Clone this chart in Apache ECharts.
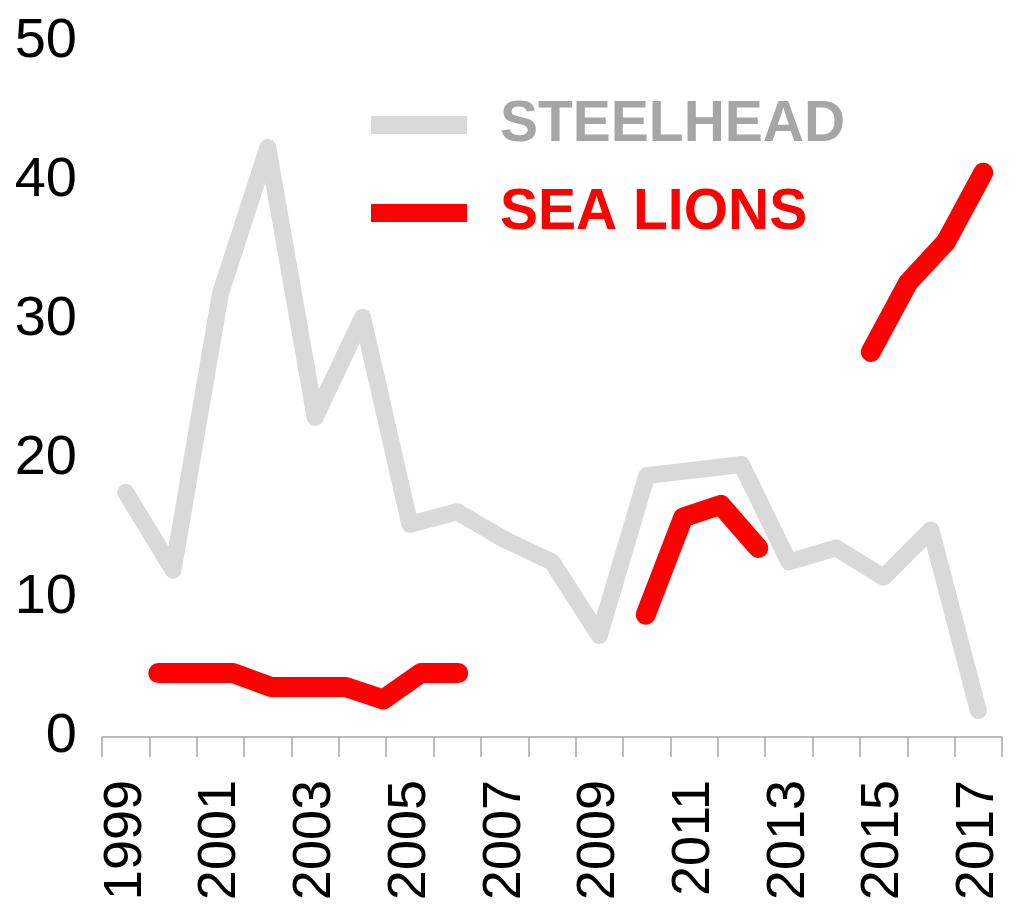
<!DOCTYPE html>
<html>
<head>
<meta charset="utf-8">
<script src="https://cdn.jsdelivr.net/npm/echarts@6/dist/echarts.min.js"></script>
<style>
html,body{margin:0;padding:0;background:#fff;}
#chart{width:1017px;height:908px;}
</style>
</head>
<body>
<div id="chart"></div>
<script>
// Years on the main category axis
var years = ['1999','2000','2001','2002','2003','2004','2005','2006','2007','2008','2009','2010','2011','2012','2013','2014','2015','2016','2017'];
// Steelhead values (one per year)
var steelhead = [17.6, 12.0, 31.9, 42.4, 23.0, 30.2, 15.3, 16.2, 14.2, 12.6, 7.3, 18.8, 19.2, 19.6, 12.6, 13.6, 11.5, 14.9, 1.9];
// Sea lion series sits on its own (hidden) category axis of 24 slots
var seaLionSlots = ['1','2','3','4','5','6','7','8','9','10','11','12','13','14','15','16','17','18','19','20','21','22','23','24'];
var seaLions = [null, 4.6, 4.6, 4.6, 3.6, 3.6, 3.6, 2.7, 4.6, 4.6, null, null, null, null, 8.8, 15.8, 16.7, 13.6, null, null, 27.7, 32.7, 35.6, 40.6];
var yTicks = {min: 0, max: 50, interval: 10};
var seriesNames = ['STEELHEAD', 'SEA LIONS'];

var chart = echarts.init(document.getElementById('chart'), null, {renderer: 'canvas'});
var FONT = '"Liberation Sans", Arial, sans-serif';
chart.setOption({
  animation: false,
  backgroundColor: '#ffffff',
  grid: {left: 102, right: 15, top: 42, bottom: 171, containLabel: false},
  legend: {
    orient: 'vertical',
    left: 366,
    top: 88,
    icon: 'rect',
    itemWidth: 96,
    itemHeight: 18,
    itemGap: 24,
    selectedMode: false,
    textStyle: {fontFamily: FONT, fontSize: 57, fontWeight: 'bold', lineHeight: 64, padding: [0, 0, 0, 28]},
    data: [
      {name: seriesNames[0], textStyle: {color: '#a6a6a6'}},
      {name: seriesNames[1], textStyle: {color: '#ff0000'}}
    ]
  },
  xAxis: [{
    type: 'category',
    data: years,
    boundaryGap: true,
    axisLine: {show: true, lineStyle: {color: '#a6a6a6', width: 1.5}},
    axisTick: {show: true, interval: 0, length: 20, lineStyle: {color: '#a6a6a6', width: 1.5}},
    axisLabel: {interval: 1, rotate: 90, margin: 43, fontFamily: FONT, fontSize: 54, color: '#000000'},
    splitLine: {show: false}
  }, {
    type: 'category',
    data: seaLionSlots,
    boundaryGap: true,
    show: false,
    gridIndex: 0
  }],
  yAxis: {
    type: 'value',
    min: yTicks.min,
    max: yTicks.max,
    interval: yTicks.interval,
    axisLine: {show: false},
    axisTick: {show: false},
    splitLine: {show: false},
    axisLabel: {margin: 25, fontFamily: FONT, fontSize: 56, color: '#000000'}
  },
  series: [{
    name: seriesNames[0],
    type: 'line',
    xAxisIndex: 0,
    data: steelhead,
    symbol: 'none',
    color: '#d9d9d9',
    lineStyle: {color: '#d9d9d9', width: 17, cap: 'round', join: 'round'},
    z: 2
  }, {
    name: seriesNames[1],
    type: 'line',
    xAxisIndex: 1,
    data: seaLions,
    connectNulls: false,
    symbol: 'none',
    color: '#ff0000',
    lineStyle: {color: '#ff0000', width: 20, cap: 'round', join: 'round'},
    z: 3
  }]
});
</script>
</body>
</html>
